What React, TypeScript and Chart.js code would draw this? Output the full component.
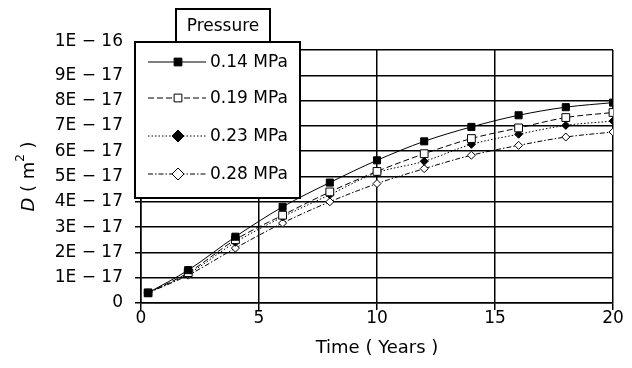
import React, { useEffect, useRef } from "react";
import { Chart, registerables } from "chart.js";

Chart.register(...registerables);

// Time in years
const times = [0.3, 2, 4, 6, 8, 10, 12, 14, 16, 18, 20];
// D values in units of 1E-17 m^2
const p014 = [0.4, 1.3, 2.62, 3.8, 4.76, 5.64, 6.39, 6.96, 7.42, 7.74, 7.92];
const p019 = [0.4, 1.2, 2.5, 3.47, 4.39, 5.2, 5.9, 6.5, 6.92, 7.33, 7.53];
const p023 = [0.4, 1.15, 2.4, 3.4, 4.28, 5.15, 5.6, 6.27, 6.67, 7.02, 7.19];
const p028 = [0.4, 1.1, 2.17, 3.16, 4.0, 4.72, 5.31, 5.84, 6.23, 6.56, 6.76];

const seriesLabels = ["0.14 MPa", "0.19 MPa", "0.23 MPa", "0.28 MPa"];
const yTickLabels = [
  "0",
  "1E − 17",
  "2E − 17",
  "3E − 17",
  "4E − 17",
  "5E − 17",
  "6E − 17",
  "7E − 17",
  "8E − 17",
  "9E − 17",
  "1E − 16",
];
const xTickLabels = ["0", "5", "10", "15", "20"];

const FONT = "'DejaVu Sans', 'Liberation Sans', Arial, sans-serif";

function drawMarker(ctx: CanvasRenderingContext2D, style: string, x: number, y: number, r: number, filled: boolean) {
  ctx.beginPath();
  if (style === "rect") {
    const s = r * Math.SQRT1_2;
    ctx.rect(x - s, y - s, 2 * s, 2 * s);
  } else {
    ctx.moveTo(x, y - r);
    ctx.lineTo(x + r, y);
    ctx.lineTo(x, y + r);
    ctx.lineTo(x - r, y);
    ctx.closePath();
  }
  ctx.fillStyle = filled ? "#000" : "#fff";
  ctx.fill();
  ctx.lineWidth = 1;
  ctx.strokeStyle = "#000";
  ctx.setLineDash([]);
  ctx.stroke();
}

const decorPlugin = {
  id: "decor",
  afterDraw(chart: any) {
    const ctx: CanvasRenderingContext2D = chart.ctx;
    const area = chart.chartArea;
    ctx.save();
    // Axis titles
    ctx.fillStyle = "#000";
    ctx.font = `18px ${FONT}`;
    ctx.textAlign = "center";
    ctx.textBaseline = "middle";
    ctx.fillText("Time ( Years )", (area.left + area.right) / 2, 348);

    // Y title rotated
    ctx.save();
    ctx.translate(28, (area.top + area.bottom) / 2);
    ctx.rotate(-Math.PI / 2);
    const partD = "D";
    const partA = " ( m";
    const partSup = "2";
    const partB = " )";
    ctx.font = `italic 18px ${FONT}`;
    const wD = ctx.measureText(partD).width;
    ctx.font = `18px ${FONT}`;
    const wA = ctx.measureText(partA).width;
    const wB = ctx.measureText(partB).width;
    ctx.font = `12px ${FONT}`;
    const wS = ctx.measureText(partSup).width;
    let cx = -(wD + wA + wS + wB) / 2;
    ctx.textAlign = "left";
    ctx.textBaseline = "alphabetic";
    ctx.font = `italic 18px ${FONT}`;
    ctx.fillText(partD, cx, 6);
    cx += wD;
    ctx.font = `18px ${FONT}`;
    ctx.fillText(partA, cx, 6);
    cx += wA;
    ctx.font = `12px ${FONT}`;
    ctx.fillText(partSup, cx, -4);
    cx += wS;
    ctx.font = `18px ${FONT}`;
    ctx.fillText(partB, cx, 6);
    ctx.restore();

    // Legend box
    const bx = 135, by = 42, bw = 165, bh = 156;
    ctx.fillStyle = "#fff";
    ctx.fillRect(bx, by, bw, bh);
    ctx.lineWidth = 2;
    ctx.strokeStyle = "#000";
    ctx.setLineDash([]);
    ctx.strokeRect(bx, by, bw, bh);
    const tx = 176, ty = 9, tw = 94, th = 33;
    ctx.fillRect(tx, ty, tw, th);
    ctx.strokeRect(tx, ty, tw, th);
    ctx.fillStyle = "#000";
    ctx.font = `17px ${FONT}`;
    ctx.textAlign = "center";
    ctx.textBaseline = "middle";
    ctx.fillText("Pressure", tx + tw / 2, ty + th / 2 + 1);

    const rows = [62, 98, 136, 174];
    chart.data.datasets.forEach((ds: any, i: number) => {
      const y = rows[i];
      ctx.beginPath();
      ctx.setLineDash(ds.borderDash || []);
      ctx.lineWidth = 1;
      ctx.strokeStyle = "#000";
      ctx.moveTo(148, y);
      ctx.lineTo(206, y);
      ctx.stroke();
      const filled = ds.pointBackgroundColor === "#000";
      drawMarker(ctx, ds.pointStyle, 178, y, ds.pointStyle === "rect" ? 5.5 : 6, filled);
      ctx.fillStyle = "#000";
      ctx.font = `17px ${FONT}`;
      ctx.textAlign = "left";
      ctx.textBaseline = "middle";
      ctx.fillText(ds.label, 210, y + 1);
    });
    ctx.restore();
  },
};

export default function App() {
  const ref = useRef<HTMLCanvasElement | null>(null);
  useEffect(() => {
    if (!ref.current) return;
    const mk = (vals: number[]) => vals.map((v, i) => ({ x: times[i], y: v }));
    const common = {
      borderColor: "#000",
      borderWidth: 1,
      pointBorderColor: "#000",
      pointBorderWidth: 1,
      cubicInterpolationMode: "monotone" as const,
      fill: false,
    };
    const chart = new Chart(ref.current, {
      type: "line",
      data: {
        datasets: [
          { ...common, label: seriesLabels[0], data: mk(p014), pointStyle: "rect", pointRadius: 5, pointBackgroundColor: "#000", borderDash: [] },
          { ...common, label: seriesLabels[1], data: mk(p019), pointStyle: "rect", pointRadius: 5.5, pointBackgroundColor: "#fff", borderDash: [6, 3] },
          { ...common, label: seriesLabels[2], data: mk(p023), pointStyle: "rectRot", pointRadius: 4, pointBackgroundColor: "#000", borderDash: [1.5, 2] },
          { ...common, label: seriesLabels[3], data: mk(p028), pointStyle: "rectRot", pointRadius: 4, pointBackgroundColor: "#fff", borderDash: [5, 2, 1.5, 2] },
        ],
      },
      options: {
        responsive: false,
        animation: false,
        events: [],
        layout: { padding: { left: 0, right: 19, top: 50, bottom: 0 } },
        plugins: { legend: { display: false }, tooltip: { enabled: false }, title: { display: false } },
        scales: {
          x: {
            type: "linear",
            min: 0,
            max: 20,
            afterFit: (s: any) => { s.height = 65; },
            afterBuildTicks: (s: any) => { s.ticks = xTickLabels.map((t) => ({ value: Number(t) })); },
            ticks: {
              stepSize: 5,
              autoSkip: false,
              color: "#000",
              font: { family: FONT, size: 17 },
              padding: -2,
              maxRotation: 0,
              callback: (v: any) => xTickLabels.find((t) => Number(t) === v) ?? "",
            },
            grid: { color: "#000", lineWidth: 1.5, tickLength: 7, tickColor: "#000" },
            border: { color: "#000", width: 1.5 },
          },
          y: {
            type: "linear",
            min: 0,
            max: 10,
            afterFit: (s: any) => { s.width = 141; },
            ticks: {
              stepSize: 1,
              autoSkip: false,
              color: "#000",
              font: { family: FONT, size: 17, lineHeight: "16px" },
              padding: 12,
              callback: (v: any) => {
                const lbl = yTickLabels[Math.round(v)] ?? "";
                return Math.round(v) === 10 ? [lbl, ""] : lbl;
              },
            },
            grid: { color: "#000", lineWidth: 1.5, tickLength: 6, tickColor: "#000" },
            border: { color: "#000", width: 1.5 },
          },
        },
      },
      plugins: [decorPlugin],
    });
    return () => chart.destroy();
  }, []);
  return (
    <div style={{ position: "fixed", left: 0, top: 0, width: 632, height: 368, background: "#fff" }}>
      <canvas ref={ref} width={632} height={368} style={{ width: 632, height: 368, display: "block" }} />
    </div>
  );
}
